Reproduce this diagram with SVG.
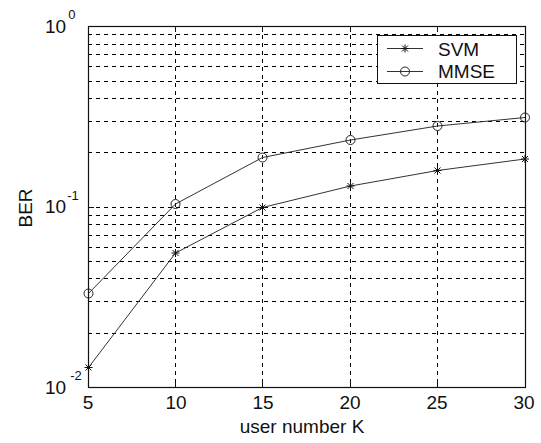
<svg xmlns="http://www.w3.org/2000/svg" width="541" height="443" viewBox="0 0 541 443">
<style>
text{font-family:"Liberation Sans",Arial,sans-serif;fill:#111;font-size:19px}
.sup{font-size:13px}
.grid{stroke:#000;stroke-width:1;stroke-dasharray:4 4;fill:none}
.axis{stroke:#111;stroke-width:1.2;fill:none}
.tick{stroke:#111;stroke-width:1;fill:none}
.data{stroke:#333;stroke-width:1;fill:none}
.circ{stroke:#222;stroke-width:1;fill:none}
.star{stroke:#111;stroke-width:1;fill:none}
</style>
<defs>
<g id="starm"><path class="star" d="M-4,0H4M0,-4V4M-3,-3L3,3M-3,3L3,-3"/></g>
<g id="circm"><circle class="circ" r="4.5" cx="0" cy="0"/></g>
</defs>
<rect x="0" y="0" width="541" height="443" fill="#fff"/>
<g id="grid">
<path class="grid" d="M175.5,27V387M262.5,27V387M350.5,27V387M437.5,27V387"/>
<path class="grid" d="M88,34.5H525M88,44.5H525M88,54.5H525M88,66.5H525M88,81.5H525M88,98.5H525M88,121.5H525M88,152.5H525M88,207.5H525M88,215.5H525M88,224.5H525M88,235.5H525M88,247.5H525M88,261.5H525M88,278.5H525M88,301.5H525M88,333.5H525"/>
</g>
<g id="axes">
<rect class="axis" x="88.5" y="26.5" width="437" height="361"/>
<path class="tick" d="M175.5,27v5M262.5,27v5M350.5,27v5M437.5,27v5M175.5,387v-5M262.5,387v-5M350.5,387v-5M437.5,387v-5M88,207.5h6M525,207.5h-6"/>
</g>
<g id="connectors">
<polyline id="svm-line" class="data" points="88.5,367.5 175.5,253 262.5,207.5 350.5,186 437.5,170.5 525,159"/>
<polyline id="mmse-line" class="data" points="88.5,293.5 175.5,204 262.5,157.5 350.5,140 437.5,126 525,117.5"/>
</g>
<g id="svm-markers">
<use href="#starm" x="88.5" y="367.5"/>
<use href="#starm" x="175.5" y="253"/>
<use href="#starm" x="262.5" y="207.5"/>
<use href="#starm" x="350.5" y="186"/>
<use href="#starm" x="437.5" y="170.5"/>
<use href="#starm" x="525" y="159"/>
</g>
<g id="mmse-markers">
<use href="#circm" x="88.5" y="293.5"/>
<use href="#circm" x="175.5" y="204"/>
<use href="#circm" x="262.5" y="157.5"/>
<use href="#circm" x="350.5" y="140"/>
<use href="#circm" x="437.5" y="126"/>
<use href="#circm" x="525" y="117.5"/>
</g>
<g id="legend">
<rect x="377.5" y="35.5" width="139" height="48" fill="#fff" stroke="#111" stroke-width="1"/>
<path class="data" d="M387,48.5H423M387,71.5H423"/>
<use href="#starm" x="405" y="48.5"/>
<use href="#circm" x="405" y="71.5"/>
<text x="438" y="56">SVM</text>
<text x="438" y="78">MMSE</text>
</g>
<g id="xticks">
<text x="88" y="409" text-anchor="middle">5</text>
<text x="176" y="409" text-anchor="middle">10</text>
<text x="263" y="409" text-anchor="middle">15</text>
<text x="350" y="409" text-anchor="middle">20</text>
<text x="437" y="409" text-anchor="middle">25</text>
<text x="524" y="409" text-anchor="middle">30</text>
</g>
<g id="yticks">
<text x="45" y="33">10<tspan class="sup" dx="2" dy="-14">0</tspan></text>
<text x="45" y="213">10<tspan class="sup" dx="1" dy="-13">-1</tspan></text>
<text x="45" y="394">10<tspan class="sup" dx="4" dy="-14">-2</tspan></text>
</g>
<text x="302" y="433" text-anchor="middle">user number K</text>
<text transform="translate(31.5,208) rotate(-90)" text-anchor="middle">BER</text>
</svg>
